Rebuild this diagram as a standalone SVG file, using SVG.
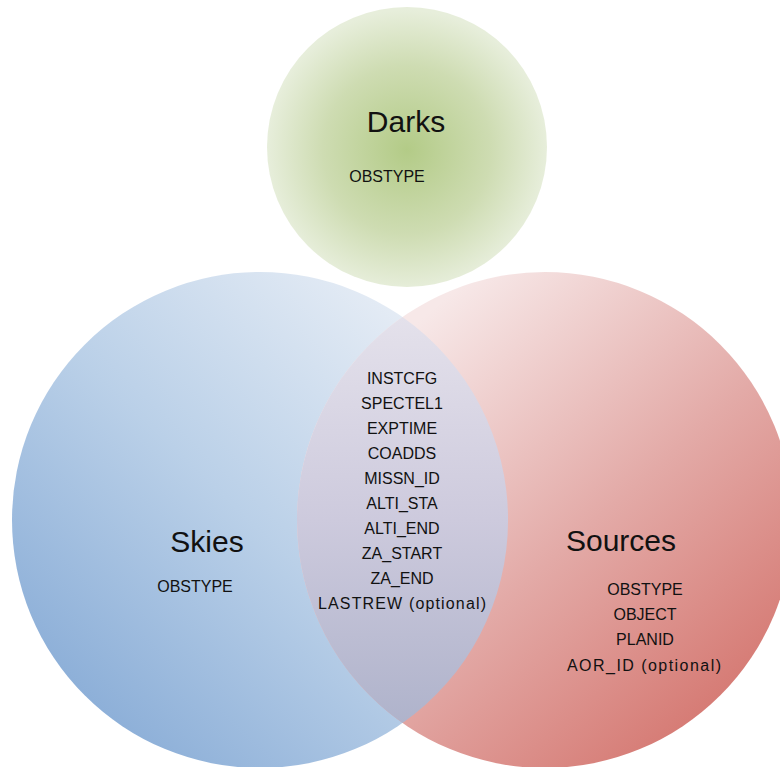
<svg xmlns="http://www.w3.org/2000/svg" width="780" height="767" viewBox="0 0 780 767">
  <style>
    text { font-family: "Liberation Sans", Arial, sans-serif; fill: #111; text-anchor: middle; }
    .title { font-size: 30px; }
    .lbl { font-size: 16px; }
  </style>
  <defs>
    <radialGradient id="gDarks" cx="407" cy="150" r="140" gradientUnits="userSpaceOnUse">
      <stop offset="0" stop-color="#b3cb87"/>
      <stop offset="0.6" stop-color="#cedcb2"/>
      <stop offset="1" stop-color="#e7eedb"/>
    </radialGradient>
    <linearGradient id="gSkies" x1="60" y1="720" x2="440" y2="320" gradientUnits="userSpaceOnUse">
      <stop offset="0" stop-color="#87abd6"/>
      <stop offset="0.5" stop-color="#bad0e8"/>
      <stop offset="1" stop-color="#e8eef6"/>
    </linearGradient>
    <linearGradient id="gSources" x1="420" y1="320" x2="770" y2="720" gradientUnits="userSpaceOnUse">
      <stop offset="0" stop-color="#f7e8e8"/>
      <stop offset="0.5" stop-color="#e3aaa7"/>
      <stop offset="1" stop-color="#d3716a"/>
    </linearGradient>
    <linearGradient id="gLens" x1="0" y1="317" x2="0" y2="723" gradientUnits="userSpaceOnUse">
      <stop offset="0" stop-color="#e4e1eb"/>
      <stop offset="0.5" stop-color="#cdcadd"/>
      <stop offset="1" stop-color="#afb3cb"/>
    </linearGradient>
  </defs>

  <g id="connectors"/>

  <g id="node-skies">
    <circle cx="260" cy="520" r="248" fill="url(#gSkies)"/>
    <text class="title" x="207" y="552">Skies</text>
    <text class="lbl" x="195" y="592">OBSTYPE</text>
  </g>

  <g id="node-sources">
    <circle cx="545" cy="520" r="248" fill="url(#gSources)"/>
    <text class="title" x="621" y="551">Sources</text>
    <text class="lbl" x="645" y="595">OBSTYPE</text>
    <text class="lbl" x="645" y="620">OBJECT</text>
    <text class="lbl" x="645" y="645">PLANID</text>
    <text class="lbl" x="644" y="671" textLength="154" lengthAdjust="spacing">AOR_ID (optional)</text>
  </g>

  <g id="node-overlap">
    <path d="M402.5 317 A248 248 0 0 1 402.5 723 A248 248 0 0 1 402.5 317 Z" fill="url(#gLens)"/>
    <text class="lbl" x="402" y="384">INSTCFG</text>
    <text class="lbl" x="402" y="409">SPECTEL1</text>
    <text class="lbl" x="402" y="434">EXPTIME</text>
    <text class="lbl" x="402" y="459">COADDS</text>
    <text class="lbl" x="402" y="484">MISSN_ID</text>
    <text class="lbl" x="402" y="509">ALTI_STA</text>
    <text class="lbl" x="402" y="534">ALTI_END</text>
    <text class="lbl" x="402" y="559">ZA_START</text>
    <text class="lbl" x="402" y="584">ZA_END</text>
    <text class="lbl" x="402" y="609" textLength="168" lengthAdjust="spacing">LASTREW (optional)</text>
  </g>

  <g id="node-darks">
    <circle cx="407" cy="147" r="140" fill="url(#gDarks)"/>
    <text class="title" x="406" y="132">Darks</text>
    <text class="lbl" x="387" y="182">OBSTYPE</text>
  </g>
</svg>
